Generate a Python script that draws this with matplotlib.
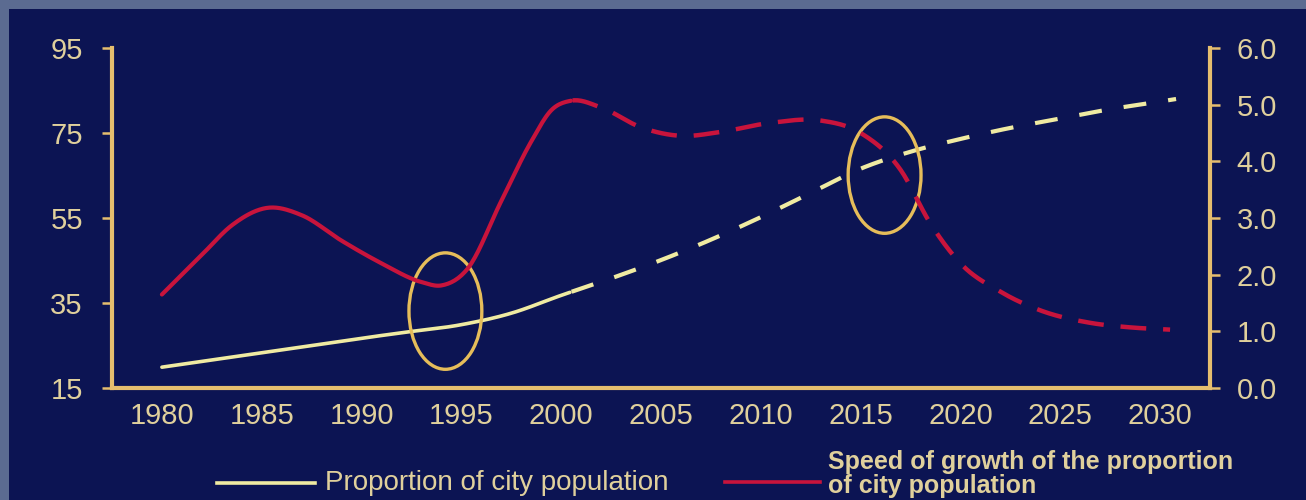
import numpy as np
import matplotlib
matplotlib.use("Agg")
import matplotlib.pyplot as plt
from matplotlib.patches import Ellipse, Rectangle
from matplotlib.lines import Line2D

# ── Data ──────────────────────────────────────────────────────────────────────
prop_years = [1980, 1985, 1990, 1992, 1995, 1997.5, 2000, 2002.5, 2005, 2007.5,
              2010, 2012.5, 2015, 2017.5, 2020, 2022.5, 2025, 2027.5, 2030, 2030.8]
prop = [19.9, 23.3, 26.7, 28.0, 29.9, 32.6, 36.8, 40.8, 45.1, 49.9,
        55.2, 60.9, 66.6, 70.6, 73.6, 76.2, 78.4, 80.6, 82.4, 83.0]

speed_years = [1980, 1982, 1983.5, 1985.3, 1987, 1989, 1991, 1993, 1994, 1995.3,
               1997, 1998.5, 1999.5, 2000.5, 2002, 2004, 2006, 2008, 2010.5,
               2013, 2015, 2017, 2018.5, 2020, 2022, 2024, 2026.5, 2028.5, 2030.5]
speed = [1.65, 2.35, 2.87, 3.18, 3.05, 2.6, 2.2, 1.87, 1.81, 2.1,
         3.3, 4.35, 4.9, 5.07, 4.95, 4.6, 4.45, 4.52, 4.68,
         4.72, 4.5, 3.85, 2.9, 2.2, 1.7, 1.37, 1.15, 1.07, 1.03]

year_ticks = [1980, 1985, 1990, 1995, 2000, 2005, 2010, 2015, 2020, 2025, 2030]
left_ticks = [15, 35, 55, 75, 95]
right_ticks = [0, 1, 2, 3, 4, 5, 6]

# highlighted spots: (year, left-axis value)
circles = [(1994.2, 33.1), (2016.2, 65.1)]

legend_1 = "Proportion of city population"
legend_2 = "Speed of growth of the proportion\nof city population"

# ── Style ────────────────────────────────────────────────────────────────────
BG = "#0c1453"
BORDER = "#5b6b91"
AXIS = "#e6be6e"
LABEL = "#e0d09c"
YELLOW = "#f0eba2"
RED = "#c8143c"
RING = "#e6bd5a"
SPLIT = 2000.5     # solid before, dashed after


def smooth(x, y, n=600):
    """cubic Hermite through the read points (central-difference slopes)"""
    x = np.asarray(x, float)
    y = np.asarray(y, float)
    m = np.gradient(y, x)
    xs = np.linspace(x[0], x[-1], n)
    i = np.clip(np.searchsorted(x, xs) - 1, 0, len(x) - 2)
    h = x[i + 1] - x[i]
    t = (xs - x[i]) / h
    h00 = 2 * t**3 - 3 * t**2 + 1
    h10 = t**3 - 2 * t**2 + t
    h01 = -2 * t**3 + 3 * t**2
    h11 = t**3 - t**2
    ys = h00 * y[i] + h10 * h * m[i] + h01 * y[i + 1] + h11 * h * m[i + 1]
    return xs, ys


fig = plt.figure(figsize=(13.06, 5.0), dpi=100, facecolor=BORDER)
fig.patches.append(Rectangle((9 / 1306, 0), 1, 1 - 9 / 500,
                             transform=fig.transFigure, facecolor=BG,
                             edgecolor="none", zorder=-10))

ax = fig.add_axes([112 / 1306, 1 - 388 / 500, (1210 - 112) / 1306, 340 / 500])
ax2 = ax.twinx()
for a in (ax, ax2):
    a.set_facecolor("none")
    a.spines["top"].set_visible(False)
    for s in ("left", "right", "bottom"):
        a.spines[s].set_color(AXIS)
        a.spines[s].set_linewidth(3)

ax.spines["right"].set_visible(False)
ax2.spines["left"].set_visible(False)
ax2.spines["bottom"].set_visible(False)

ax.set_xlim(1977.5, 2032.5)
ax.set_ylim(15, 95)
ax2.set_ylim(0, 6)

ax.set_xticks(year_ticks)
ax.set_xticklabels([str(y) for y in year_ticks])
ax.set_yticks(left_ticks)
ax2.set_yticks(right_ticks)
ax2.set_yticklabels([f"{v:.1f}" for v in right_ticks])

tick_family = ["Liberation Sans", "DejaVu Sans"]
ax.tick_params(axis="x", length=0, pad=10, labelcolor=LABEL)
ax.tick_params(axis="y", length=7, width=1.8, color=AXIS, pad=14, labelcolor=LABEL)
ax2.tick_params(axis="y", length=7, width=1.8, color=AXIS, pad=12, labelcolor=LABEL)
for lab in ax.get_xticklabels() + ax.get_yticklabels() + ax2.get_yticklabels():
    lab.set_fontfamily(tick_family)
    lab.set_fontsize(21)

# proportion (left axis)
xs, ys = smooth(prop_years, prop)
ax.plot(xs[xs <= SPLIT], ys[xs <= SPLIT], color=YELLOW, lw=2.6,
        solid_capstyle="round", zorder=3)
ax.plot(xs[xs >= SPLIT], ys[xs >= SPLIT], color=YELLOW, lw=3,
        dashes=(5.5, 5.3), zorder=3)

# speed of growth (right axis)
xs, ys = smooth(speed_years, speed)
ax2.plot(xs[xs <= SPLIT], ys[xs <= SPLIT], color=RED, lw=3,
         solid_capstyle="round", zorder=2)
ax2.plot(xs[xs >= SPLIT], ys[xs >= SPLIT], color=RED, lw=3.2,
         dashes=(5.8, 3.8), zorder=2)

for cx, cy in circles:
    ax.add_patch(Ellipse((cx, cy), 3.65, 27.4, facecolor="none",
                         edgecolor=RING, lw=2.4, zorder=4))

# legend drawn by hand below the axes
fig.add_artist(Line2D([217 / 1306, 315 / 1306], [1 - 483 / 500] * 2,
                      color=YELLOW, lw=2.6))
fig.text(325 / 1306, 1 - 483 / 500, legend_1, color=LABEL, fontsize=20,
         family=["Liberation Sans Narrow", "Liberation Sans", "DejaVu Sans"],
         ha="left", va="center")
fig.add_artist(Line2D([725 / 1306, 820 / 1306], [1 - 482 / 500] * 2,
                      color=RED, lw=2.6))
fig.text(828 / 1306, 1 - 474 / 500, legend_2, color=LABEL, fontsize=18,
         fontweight="bold", linespacing=0.95,
         family=["Liberation Sans", "DejaVu Sans"], ha="left", va="center")

fig.savefig("out.png", dpi=100, facecolor=fig.get_facecolor())
